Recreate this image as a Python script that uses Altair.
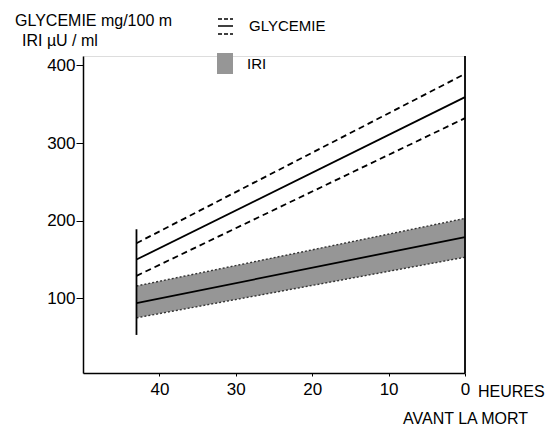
import altair as alt
import pandas as pd

# ---- data ----
hours = [43, 0]
gly_mean = [150, 359]
gly_upper = [171, 389]
gly_lower = [129, 332]
iri_mean = [94, 179]
iri_upper = [116, 203]
iri_lower = [75, 153]

bar43_h = [43]
bar43_lo = [53]
bar43_hi = [189]

x_ticks = [40, 30, 20, 10, 0]
y_ticks = [100, 200, 300, 400]

ytitle1 = ["GLYCEMIE mg/100 m"]
ytitle2 = ["IRI \u00b5U / ml"]
xunit = ["HEURES"]
xtitle2 = ["AVANT LA MORT"]
leg1 = ["GLYCEMIE"]
leg2 = ["IRI"]

FONT = "Liberation Sans"
W, H = 382, 317

df = pd.DataFrame({
    "h": hours,
    "gm": gly_mean, "gu": gly_upper, "gl": gly_lower,
    "im": iri_mean, "iu": iri_upper, "il": iri_lower,
})
dbar = pd.DataFrame({"h": bar43_h, "lo": bar43_lo, "hi": bar43_hi})

xs = alt.Scale(domain=[0, 50], reverse=True, nice=False)
ys = alt.Scale(domain=[4, 412], nice=False)

xaxis = alt.Axis(values=x_ticks, title=None, grid=False, domainColor="black",
                 domainWidth=1.5, tickColor="black", tickSize=3, labelPadding=5,
                 labelFont=FONT, labelFontSize=17, labelColor="black",
                 labelFlush=False, labelOverlap=False)
yaxis = alt.Axis(values=y_ticks, title=None, grid=False, domainColor="black",
                 domainWidth=1.5, tickColor="black", tickSize=7, labelPadding=1,
                 labelFont=FONT, labelFontSize=17, labelColor="black",
                 labelFlush=False, labelOverlap=False)

base = alt.Chart(df)

band = base.mark_area(color="#969696", opacity=1).encode(
    x=alt.X("h:Q", scale=xs, axis=xaxis),
    y=alt.Y("il:Q", scale=ys, axis=yaxis),
    y2="iu:Q",
)
band_edges_u = base.mark_line(color="#333", strokeWidth=1.4, strokeDash=[2, 2]).encode(
    x=alt.X("h:Q", scale=xs), y=alt.Y("iu:Q", scale=ys))
band_edges_l = base.mark_line(color="#333", strokeWidth=1.4, strokeDash=[2, 2]).encode(
    x=alt.X("h:Q", scale=xs), y=alt.Y("il:Q", scale=ys))
iri_line = base.mark_line(color="black", strokeWidth=1.8).encode(
    x=alt.X("h:Q", scale=xs), y=alt.Y("im:Q", scale=ys))

gm = base.mark_line(color="black", strokeWidth=1.8).encode(
    x=alt.X("h:Q", scale=xs), y=alt.Y("gm:Q", scale=ys))
gu = base.mark_line(color="black", strokeWidth=1.8, strokeDash=[6, 4]).encode(
    x=alt.X("h:Q", scale=xs), y=alt.Y("gu:Q", scale=ys))
gl = base.mark_line(color="black", strokeWidth=1.8, strokeDash=[6, 4]).encode(
    x=alt.X("h:Q", scale=xs), y=alt.Y("gl:Q", scale=ys))

vbar = alt.Chart(dbar).mark_rule(color="black", strokeWidth=1.8).encode(
    x=alt.X("h:Q", scale=xs), y=alt.Y("lo:Q", scale=ys), y2="hi:Q")

right_line = alt.Chart(pd.DataFrame({"h": [0]})).mark_rule(
    color="black", strokeWidth=1.8).encode(
    x=alt.X("h:Q", scale=xs), y=alt.value(0), y2=alt.value(H))


def txt(vals, x, y, size=16, align="left"):
    return alt.Chart(pd.DataFrame({"t": vals})).mark_text(
        font=FONT, fontSize=size, color="black", align=align, baseline="middle"
    ).encode(text="t:N", x=alt.value(x), y=alt.value(y))


t1 = txt(ytitle1, -68, -35)
t2 = txt(ytitle2, -61, -15)
t3 = txt(xunit, 395, 336, size=16)
t4 = txt(xtitle2, 320, 363)
l1 = txt(leg1, 166, -30, size=15)
l2 = txt(leg2, 164, 8, size=15)

legA = alt.Chart(pd.DataFrame({"k": [0]})).mark_rule(
    color="black", strokeWidth=1.5, strokeDash=[4, 2]).encode(
    x=alt.value(135), x2=alt.value(150), y=alt.value(-37))
legB = alt.Chart(pd.DataFrame({"k": [0]})).mark_rule(
    color="black", strokeWidth=1.5).encode(
    x=alt.value(135), x2=alt.value(150), y=alt.value(-30))
legC = alt.Chart(pd.DataFrame({"k": [0]})).mark_rule(
    color="black", strokeWidth=1.5, strokeDash=[4, 2]).encode(
    x=alt.value(135), x2=alt.value(150), y=alt.value(-22))
legR = alt.Chart(pd.DataFrame({"k": [0]})).mark_rect(
    color="#969696").encode(
    x=alt.value(134), x2=alt.value(150), y=alt.value(-3), y2=alt.value(18))

chart = alt.layer(
    band, band_edges_u, band_edges_l, iri_line, gm, gu, gl, vbar, right_line,
    t1, t2, t3, t4, l1, l2, legA, legB, legC, legR
).properties(
    width=W, height=H,
    autosize=alt.AutoSizeParams(type="none"),
    padding={"left": 83, "top": 56, "right": 80, "bottom": 54},
).configure_view(stroke=None).configure(background="white")

chart.save("out.html", embed_options={"renderer": "svg", "actions": False})
